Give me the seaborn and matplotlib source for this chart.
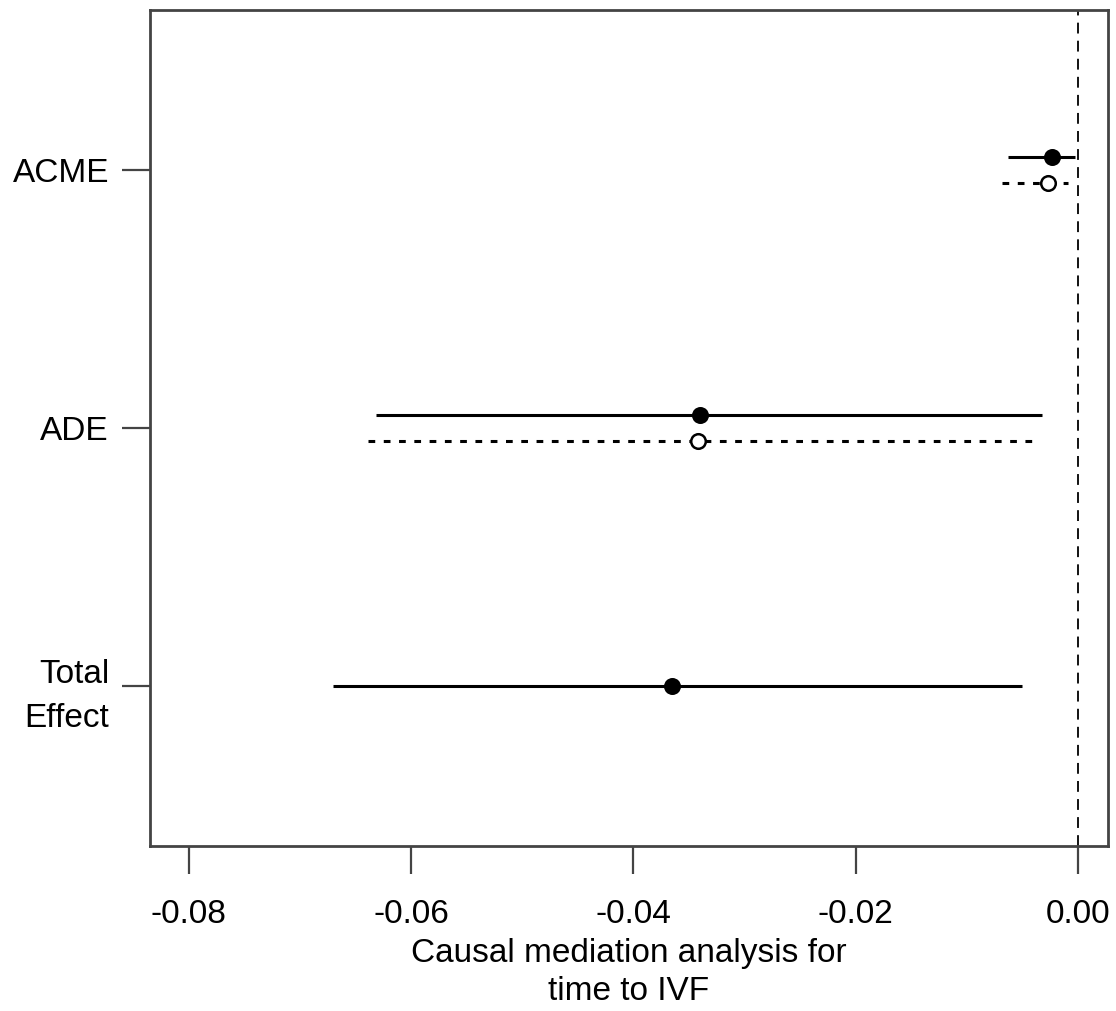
import numpy as np
import pandas as pd
import matplotlib
matplotlib.use("Agg")
import matplotlib.pyplot as plt
import seaborn as sns

# === Data ===
effects = ["ACME", "ADE", "Total\nEffect"]
ypos = [3, 2, 1]

est_treated = [-0.0023, -0.0340]
lo_treated = [-0.0063, -0.0632]
hi_treated = [-0.0003, -0.0032]

est_control = [-0.0027, -0.0342]
lo_control = [-0.0068, -0.0639]
hi_control = [-0.0009, -0.0036]

# total effect has a single interval, drawn on the tick
est_total = [-0.0365]
lo_total = [-0.0670]
hi_total = [-0.0050]

xticks = [-0.08, -0.06, -0.04, -0.02, 0.00]
xtick_labels = ["-0.08", "-0.06", "-0.04", "-0.02", "0.00"]

OFFSET = 0.05
FS = 24
SPINE = "#444444"

sns.set_style("white")
plt.rcParams["font.family"] = ["Liberation Sans", "DejaVu Sans"]


def main():
    solid = pd.DataFrame({
        "y": [y + OFFSET for y in ypos[:2]] + [ypos[2]],
        "est": est_treated + est_total,
        "lo": lo_treated + lo_total,
        "hi": hi_treated + hi_total,
    })
    dotted = pd.DataFrame({
        "y": [y - OFFSET for y in ypos[:2]],
        "est": est_control, "lo": lo_control, "hi": hi_control,
    })

    fig = plt.figure(figsize=(11.16, 10.11), dpi=100)
    ax = fig.add_axes([0.1344, 0.1632, 0.8584, 0.8269])

    # confidence intervals
    ax.hlines(solid["y"], solid["lo"], solid["hi"], color="black",
              linewidth=2.2, zorder=2)
    ax.hlines(dotted["y"], dotted["lo"], dotted["hi"], color="black",
              linewidth=2.2, linestyles=(0, (2.2, 2.8)), zorder=2)

    # point estimates
    sns.scatterplot(data=solid, x="est", y="y", ax=ax, color="black",
                    s=150, edgecolor="black", linewidth=0, zorder=3)
    sns.scatterplot(data=dotted, x="est", y="y", ax=ax, facecolor="white",
                    s=110, edgecolor="black", linewidth=1.8, zorder=3)

    # zero reference line
    ax.axvline(0, color="black", linewidth=1.3, linestyle=(0, (6, 4)), zorder=1)

    ax.set_xlim(-0.0835, 0.0027)
    ax.set_ylim(0.38, 3.62)
    ax.set_xticks(xticks)
    ax.set_xticklabels(xtick_labels, fontsize=FS)
    ax.set_yticks(ypos)
    ax.set_yticklabels(effects, fontsize=FS, ha="right", linespacing=1.55)
    ax.tick_params(axis="both", length=20, width=1.6, color=SPINE,
                   direction="out", labelcolor="black",
                   bottom=True, left=True)
    ax.tick_params(axis="x", pad=18)
    ax.tick_params(axis="y", pad=9.5)
    ax.set_ylabel("")
    ax.set_xlabel("Causal mediation analysis for\ntime to IVF", fontsize=FS,
                  labelpad=6, linespacing=1.3, color="black")

    for sp in ax.spines.values():
        sp.set_color(SPINE)
        sp.set_linewidth(2)
        sp.set_visible(True)

    fig.savefig("out.png", dpi=100)
    plt.close(fig)


if __name__ == "__main__":
    main()
